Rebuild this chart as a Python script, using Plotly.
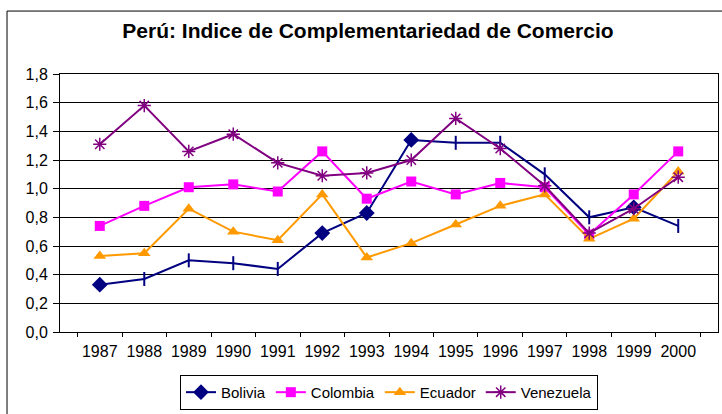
import plotly.graph_objects as go

years = ["1987", "1988", "1989", "1990", "1991", "1992", "1993",
         "1994", "1995", "1996", "1997", "1998", "1999", "2000"]

bolivia = [0.33, 0.37, 0.50, 0.48, 0.44, 0.69, 0.83,
           1.34, 1.32, 1.32, 1.10, 0.80, 0.87, 0.74]
colombia = [0.74, 0.88, 1.01, 1.03, 0.98, 1.26, 0.93,
            1.05, 0.96, 1.04, 1.01, 0.68, 0.96, 1.26]
ecuador = [0.53, 0.55, 0.86, 0.70, 0.64, 0.96, 0.52,
           0.62, 0.75, 0.88, 0.96, 0.65, 0.79, 1.12]
venezuela = [1.31, 1.58, 1.26, 1.38, 1.18, 1.09, 1.11,
             1.20, 1.49, 1.28, 1.02, 0.69, 0.86, 1.08]

# Bolivia's marker varies by year: diamonds on some points, vertical ticks on others
bolivia_symbols = ["diamond", "line-ns-open", "line-ns-open", "line-ns-open",
                   "line-ns-open", "diamond", "diamond", "diamond",
                   "line-ns-open", "line-ns-open", "line-ns-open",
                   "line-ns-open", "diamond", "line-ns-open"]

yticks = [0.0, 0.2, 0.4, 0.6, 0.8, 1.0, 1.2, 1.4, 1.6, 1.8]
ytick_text = [f"{v:.1f}".replace(".", ",") for v in yticks]

FONT = "Liberation Sans, Arial, sans-serif"

fig = go.Figure()
fig.add_trace(go.Scatter(
    x=years, y=bolivia, name="Bolivia", mode="lines+markers",
    line=dict(color="#000080", width=2),
    marker=dict(symbol=bolivia_symbols, size=10, color="#000080",
                line=dict(color="#000080", width=2)),
))
fig.add_trace(go.Scatter(
    x=years, y=colombia, name="Colombia", mode="lines+markers",
    line=dict(color="#FF00FF", width=2),
    marker=dict(symbol="square", size=10, color="#FF00FF"),
))
fig.add_trace(go.Scatter(
    x=years, y=ecuador, name="Ecuador", mode="lines+markers",
    line=dict(color="#FF9900", width=2),
    marker=dict(symbol="triangle-up", size=11, color="#FF9900"),
))
fig.add_trace(go.Scatter(
    x=years, y=venezuela, name="Venezuela", mode="lines+markers",
    line=dict(color="#800080", width=2),
    marker=dict(symbol="asterisk-open", size=11, color="#800080",
                line=dict(color="#800080", width=1.5)),
))

# outer chart border (right and bottom edges run past the canvas)
fig.add_shape(type="rect", xref="paper", yref="paper",
              x0=-0.0805, x1=1.03, y0=-0.40, y1=1.244,
              line=dict(color="black", width=1), layer="below")

fig.update_layout(
    width=722, height=414,
    margin=dict(l=60, r=4, t=74, b=82, autoexpand=False),
    paper_bgcolor="white", plot_bgcolor="white",
    font=dict(family=FONT, size=16, color="black"),
    title=dict(text="<b>Perú: Indice de Complementariedad de Comercio</b>",
               x=0.468, xref="paper", y=0.927, yanchor="middle",
               xanchor="center", font=dict(size=21, family=FONT)),
    showlegend=True,
    legend=dict(orientation="h", x=0.5, xanchor="center", y=-0.302, yanchor="bottom",
                bordercolor="black", borderwidth=1, font=dict(size=15),
                itemwidth=30, tracegroupgap=0),
    xaxis=dict(type="category", showgrid=False, showline=True, linecolor="black",
               linewidth=1, mirror=True, ticks="outside", tickson="boundaries",
               ticklen=4, tickcolor="black", tickfont=dict(size=16),
               tickangle=0, ticklabelstandoff=5),
    yaxis=dict(range=[0, 1.8], tickvals=yticks, ticktext=ytick_text,
               showgrid=True, gridcolor="black", gridwidth=1,
               showline=True, linecolor="black", linewidth=1, mirror=True,
               ticks="outside", ticklen=6, tickcolor="black",
               zeroline=False, tickfont=dict(size=16), ticklabelstandoff=2),
)

fig.write_html("out.html")
